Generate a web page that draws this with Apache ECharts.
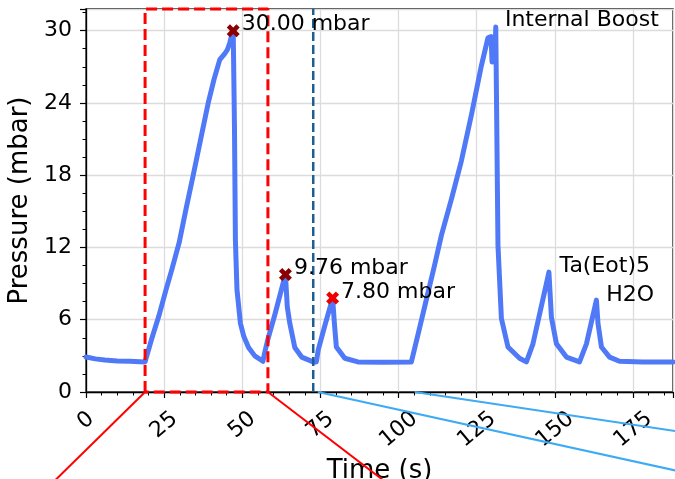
<!DOCTYPE html>
<html><head><meta charset="utf-8">
<script src="https://cdn.jsdelivr.net/npm/echarts@6/dist/echarts.min.js"></script>
<style>html,body{margin:0;padding:0;background:#fff}#c{width:675px;height:479px}</style>
</head><body><div id="c"></div>
<script>
// pressure trace (time in s, pressure in mbar)
const time = [
  0, 3, 6, 10, 14, 18.9,
  21, 23.3, 25.5, 27.5, 29.8, 32, 34.3, 36.7, 39.1, 41, 42.8, 44.4, 45.2, 46.0, 46.8, 47.1,
  47.5, 47.8, 48.3, 49.4, 50.5, 52, 54, 56.6,
  57.2, 58.1, 60.5, 63.8,
  64.4, 65.2, 66.8, 69.0, 72.7,
  73.7, 74.3, 76.5, 78.9,
  79.5, 80.1, 82.8, 87, 95, 104.1,
  106.5, 109, 111.5, 113.7, 117, 120.1, 123.3, 126.5, 128.6, 129.6, 129.9, 130.8, 131.1,
  131.5, 131.8, 132.9, 135, 138.7, 140.9,
  141.4, 143, 147.3, 148.1,
  148.9, 150.5, 153.7, 157.9,
  158.5, 160.1, 163.3,
  163.8, 164.9, 167.5, 170.7, 178, 187.8
];
const pressure = [
  2.9, 2.75, 2.65, 2.58, 2.55, 2.5,
  4.4, 6.3, 8.4, 10.2, 12.4, 15.2, 18.0, 21.0, 24.0, 26.0, 27.6, 28.1, 28.4, 29.0, 29.8, 30.0,
  22.0, 12.6, 8.5, 5.7, 4.6, 3.7, 3.0, 2.55,
  3.3, 4.3, 6.5, 9.76,
  7.07, 5.7, 3.7, 2.9, 2.5,
  2.5, 3.5, 5.6, 7.8,
  5.6, 3.74, 2.8, 2.5, 2.48, 2.5,
  5.07, 7.8, 10.5, 13.0, 16.1, 19.2, 23.0, 27.1, 29.4, 29.5, 27.4, 27.6, 30.3,
  20.0, 12.2, 6.1, 3.74, 2.8, 2.5,
  2.64, 4.0, 9.0, 9.95,
  6.2, 4.0, 2.9, 2.5,
  2.6, 4.0, 7.63,
  5.7, 3.74, 2.9, 2.55, 2.5, 2.5
];
// marked peaks
const peakTimes = [47.1, 63.8, 78.9];
const peakValues = [30.00, 9.76, 7.80];
const peakColors = ['#8b0000', '#8b0000', '#ee0000'];
// text notes
const noteTexts = ['Internal Boost', 'Ta(Eot)5', 'H2O'];
const noteX = [134, 151.5, 166.4];
const noteY = [30.9, 10.4, 8.0];
// axes
const xMax = 187.8, xStep = 25;
const yMax = 31.8, yStep = 6;
// zoom box and cycle marker (data x)
const zoomBoxX = [18.9, 58.2];
const cycleMarkX = 72.7;
// connector lines to insets (data coords: x0, y0, x1, y1)
const redLinks = [[18.9, 0, -12.5, -8], [58.2, 0, 98.5, -8]];
const blueLinks = [[74.2, 0, 195, -6.88], [105.2, 0, 195, -3.5]];

const FONT = 'DejaVu Sans';
const XSym = 'path://M0,2.5L2.5,0L5,2.5L7.5,0L10,2.5L7.5,5L10,7.5L7.5,10L5,7.5L2.5,10L0,7.5L2.5,5Z';

const chart = echarts.init(document.getElementById('c'), null, {renderer: 'canvas'});

const tickRich = {};
[[1, 7, 6], [2, 14, 12], [3, 21, 17]].forEach(([n, t, r]) => {
  tickRich['w' + n] = {fontSize: 22, fontFamily: FONT, color: '#000', padding: [t, r, 0, 0]};
});

const option = {
  animation: false,
  backgroundColor: '#fff',
  grid: {left: 86, right: 2, top: 9, bottom: 87, show: true, borderColor: '#000', borderWidth: 1.3,
    backgroundColor: 'transparent', containLabel: false, outerBoundsMode: 'none'},
  xAxis: {
    type: 'value', min: 0, max: xMax, interval: xStep,
    name: 'Time (s)', nameLocation: 'middle', nameGap: 58,
    nameTextStyle: {fontSize: 26, fontFamily: FONT, color: '#000'},
    axisLine: {show: true, lineStyle: {color: '#000', width: 1.3}},
    axisTick: {show: true, length: 6, lineStyle: {color: '#000', width: 1.2}},
    minorTick: {show: true, splitNumber: 5, length: 3.5, lineStyle: {color: '#000', width: 1}},
    splitLine: {show: true, lineStyle: {color: '#dcdcdc', width: 1.3}},
    axisLabel: {
      rotate: 40, align: 'center', verticalAlign: 'middle', margin: 24,
      showMaxLabel: false, showMinLabel: true,
      formatter: v => { const s = String(v); return '{w' + s.length + '|' + s + '}'; },
      rich: tickRich,
      fontSize: 22, fontFamily: FONT, color: '#000'
    }
  },
  yAxis: {
    type: 'value', min: 0, max: yMax, interval: yStep,
    name: 'Pressure (mbar)', nameLocation: 'middle', nameGap: 48,
    nameTextStyle: {fontSize: 26, fontFamily: FONT, color: '#000'},
    axisLine: {show: true, lineStyle: {color: '#000', width: 1.3}},
    axisTick: {show: true, length: 6, lineStyle: {color: '#000', width: 1.2}},
    minorTick: {show: true, splitNumber: 4, length: 3.5, lineStyle: {color: '#000', width: 1}},
    splitLine: {show: true, lineStyle: {color: '#dcdcdc', width: 1.3}},
    axisLabel: {fontSize: 22, fontFamily: FONT, color: '#000', margin: 14, showMaxLabel: false}
  },
  series: [
    {
      type: 'line', name: 'trace', data: time.map((t, i) => [t, pressure[i]]),
      showSymbol: false, symbol: 'none', smooth: false, z: 3,
      lineStyle: {color: '#5079f7', width: 5, cap: 'round', join: 'round'}
    },
    {
      type: 'line', name: 'cycle', showSymbol: false, symbol: 'none', clip: false, z: 4,
      data: [[cycleMarkX, 0], [cycleMarkX, yMax]],
      lineStyle: {color: '#1d5f91', width: 2.5, type: [9, 4]}
    },
    {
      type: 'line', name: 'zoom', showSymbol: false, symbol: 'none', clip: false, z: 5,
      data: [[zoomBoxX[0], 0], [zoomBoxX[0], yMax], [zoomBoxX[1], yMax], [zoomBoxX[1], 0], [zoomBoxX[0], 0]],
      lineStyle: {color: '#ff0000', width: 3, type: [11, 5]}
    },
    {
      type: 'scatter', name: 'peaks', symbol: XSym, symbolSize: 13, z: 6, clip: false,
      data: peakTimes.map((t, i) => ({
        value: [t, peakValues[i]],
        itemStyle: {color: peakColors[i], opacity: 1}
      })),
      label: {
        show: true, position: 'right', distance: 4, offset: [-2, -6],
        formatter: p => p.value[1].toFixed(2) + ' mbar',
        fontSize: 22, fontFamily: FONT, color: '#000'
      }
    },
    {
      type: 'scatter', name: 'notes', symbol: 'circle', symbolSize: 0.1, z: 6, clip: false,
      itemStyle: {color: '#ffffff', opacity: 1},
      data: noteTexts.map((s, i) => ({name: s, value: [noteX[i], noteY[i]]})),
      label: {
        show: true, position: 'right', distance: 0, opacity: 1,
        formatter: p => p.name,
        fontSize: 22, fontFamily: FONT, color: '#000'
      }
    }
  ]
};
chart.setOption(option);

function mkLines(list, color, width) {
  return list.map(l => {
    const a = chart.convertToPixel({gridIndex: 0}, [l[0], l[1]]);
    const b = chart.convertToPixel({gridIndex: 0}, [l[2], l[3]]);
    return {type: 'line', z: 10, shape: {x1: a[0], y1: a[1], x2: b[0], y2: b[1]},
      style: {stroke: color, lineWidth: width}};
  });
}
chart.setOption({graphic: mkLines(redLinks, '#ff0000', 2).concat(mkLines(blueLinks, '#3daaf5', 2))});
</script></body></html>
